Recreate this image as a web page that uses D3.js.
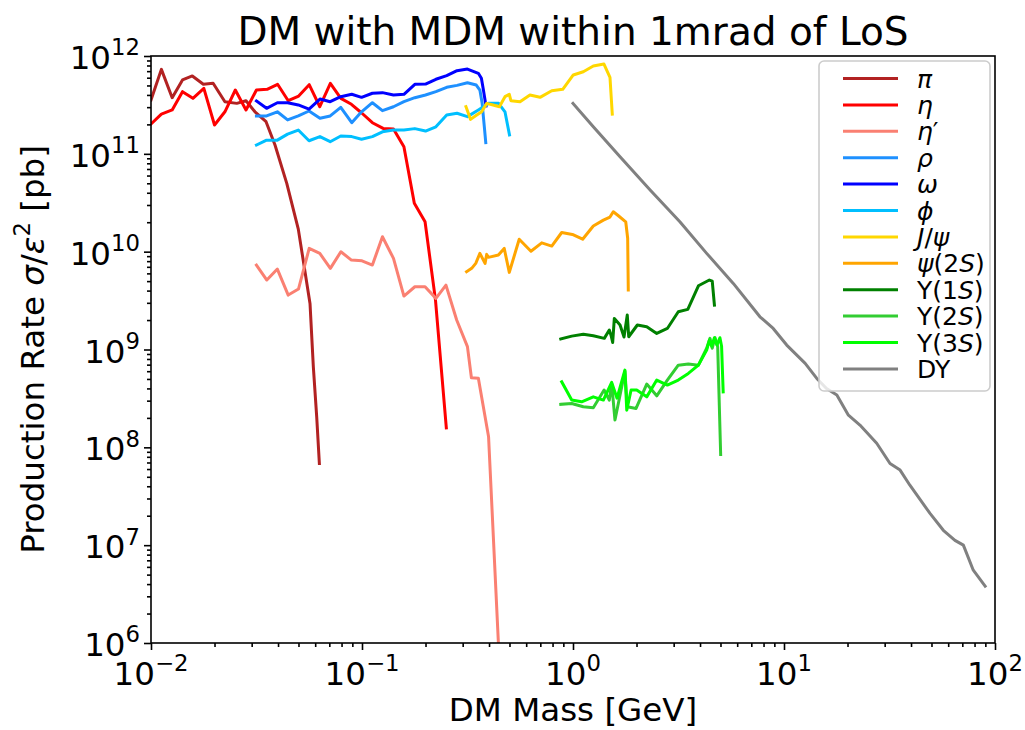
<!DOCTYPE html>
<html>
<head>
<meta charset="utf-8">
<script src="https://cdn.jsdelivr.net/npm/d3@7"></script>
<style>
  body { margin: 0; background: #fff; }
  svg { display: block; font-family: "DejaVu Sans", sans-serif; }
</style>
</head>
<body>
<div id="chart"></div>
<script>
// DM production rate per meson channel (mass in GeV, rate in pb)
const piMass = [0.01, 0.0112, 0.0126, 0.0141, 0.0157, 0.0177, 0.0197, 0.0224, 0.0255, 0.0282, 0.0311, 0.0351, 0.0387, 0.044, 0.0499, 0.0567, 0.0588, 0.061, 0.0628];
const piRate = [3.55e11, 7.3e11, 3.75e11, 5.7e11, 6.25e11, 5.14e11, 5.26e11, 3.41e11, 3.28e11, 3.49e11, 2.69e11, 2.13e11, 1.23e11, 4.99e10, 1.7e10, 2.96e9, 6.65e8, 2.05e8, 6.84e7];

const etaMass = [0.01, 0.0112, 0.0126, 0.0141, 0.0158, 0.0178, 0.02, 0.0224, 0.0251, 0.0282, 0.0316, 0.0355, 0.0398, 0.0447, 0.0501, 0.0562, 0.0631, 0.0708, 0.0794, 0.0891, 0.1, 0.112, 0.126, 0.141, 0.158, 0.177, 0.199, 0.223, 0.251];
const etaRate = [2.02e11, 2.55e11, 2.81e11, 4.32e11, 3.69e11, 4.67e11, 1.97e11, 2.69e11, 4.49e11, 2.81e11, 4.49e11, 4.57e11, 5.14e11, 3.49e11, 3.9e11, 5.09e11, 3.03e11, 5.26e11, 3.69e11, 3.21e11, 2.6e11, 2.08e11, 1.82e11, 1.79e11, 1.18e11, 3.12e10, 2.02e10, 3.2e9, 1.58e8];

const etaPrimeMass = [0.0316, 0.0354, 0.0397, 0.0447, 0.05, 0.0562, 0.0631, 0.0708, 0.0794, 0.0891, 0.1, 0.112, 0.125, 0.141, 0.158, 0.178, 0.199, 0.224, 0.25, 0.281, 0.316, 0.33, 0.356, 0.398, 0.447];
const etaPrimeRate = [7.3e9, 5.13e9, 6.64e9, 3.6e9, 4.15e9, 1.08e10, 9.6e9, 6.75e9, 9.98e9, 8.2e9, 8.07e9, 7.3e9, 1.42e10, 8.54e9, 3.52e9, 4.38e9, 4.38e9, 3.33e9, 4.55e9, 2.0e9, 1.07e9, 5.14e8, 5.07e8, 1.28e8, 6.7e5];

const rhoMass = [0.0316, 0.0353, 0.0397, 0.0444, 0.0499, 0.0561, 0.0632, 0.0707, 0.0793, 0.0894, 0.0995, 0.112, 0.125, 0.141, 0.158, 0.178, 0.2, 0.224, 0.252, 0.282, 0.316, 0.348, 0.362, 0.371, 0.38, 0.386];
const rhoRate = [2.44e11, 2.44e11, 2.69e11, 2.22e11, 2.44e11, 2.74e11, 2.31e11, 2.44e11, 2.99e11, 2.08e11, 2.69e11, 3.33e11, 2.76e11, 3.03e11, 3.41e11, 3.75e11, 3.99e11, 4.32e11, 4.79e11, 5.01e11, 5.33e11, 5.05e11, 4.49e11, 3.28e11, 1.89e11, 1.3e11];

const omegaMass = [0.0316, 0.0353, 0.0397, 0.0444, 0.0499, 0.0561, 0.0632, 0.0707, 0.0793, 0.0894, 0.0995, 0.112, 0.125, 0.141, 0.158, 0.178, 0.2, 0.224, 0.252, 0.282, 0.316, 0.356, 0.368, 0.375, 0.387];
const omegaRate = [3.47e11, 2.92e11, 3.33e11, 3.33e11, 3.16e11, 2.87e11, 3.63e11, 3.41e11, 3.84e11, 4.06e11, 3.78e11, 4.16e11, 4.22e11, 3.99e11, 4.06e11, 5.14e11, 5.17e11, 5.78e11, 6.29e11, 7.08e11, 7.36e11, 6.65e11, 5.92e11, 4.67e11, 3.08e11];

const phiMass = [0.0316, 0.0353, 0.0397, 0.0444, 0.0499, 0.0561, 0.0632, 0.0707, 0.0793, 0.0894, 0.0995, 0.112, 0.125, 0.141, 0.158, 0.178, 0.2, 0.224, 0.252, 0.282, 0.316, 0.356, 0.398, 0.444, 0.476, 0.5];
const phiRate = [1.23e11, 1.38e11, 1.38e11, 1.59e11, 1.75e11, 1.36e11, 1.5e11, 1.33e11, 1.52e11, 1.5e11, 1.41e11, 1.5e11, 1.68e11, 1.75e11, 1.75e11, 1.81e11, 1.71e11, 1.89e11, 2.49e11, 2.6e11, 2.4e11, 2.81e11, 3.28e11, 3.28e11, 2.69e11, 1.56e11];

const jpsiMass = [0.311, 0.327, 0.347, 0.369, 0.39, 0.418, 0.448, 0.476, 0.499, 0.508, 0.561, 0.625, 0.698, 0.793, 0.894, 1.003, 1.119, 1.248, 1.402, 1.497, 1.535];
const jpsiRate = [3.03e11, 2.25e11, 2.46e11, 2.69e11, 3.28e11, 3.16e11, 3.03e11, 3.84e11, 4.06e11, 3.49e11, 3.41e11, 3.99e11, 3.78e11, 4.42e11, 4.57e11, 6.4e11, 6.91e11, 7.9e11, 8.28e11, 6.06e11, 2.55e11];

const psi2sMass = [0.313, 0.331, 0.346, 0.362, 0.383, 0.39, 0.397, 0.443, 0.472, 0.499, 0.556, 0.632, 0.711, 0.793, 0.884, 0.993, 1.111, 1.248, 1.393, 1.497, 1.552, 1.641, 1.778, 1.816, 1.828];
const psi2sRate = [6.23e9, 6.75e9, 7.59e9, 9.61e9, 7.59e9, 9.38e9, 8.75e9, 9.23e9, 1.08e10, 6.14e9, 1.34e10, 1.01e10, 1.23e10, 1.14e10, 1.57e10, 1.5e10, 1.34e10, 1.83e10, 2.1e10, 2.26e10, 2.56e10, 2.33e10, 2.02e10, 1.37e10, 4.05e9];

const ups1sMass = [0.875, 0.986, 1.119, 1.248, 1.407, 1.486, 1.514, 1.542, 1.57, 1.671, 1.745, 1.808, 1.837, 2.018, 2.236, 2.494, 2.8, 3.155, 3.5, 3.93, 4.43, 4.57, 4.68];
const ups1sRate = [1.28e9, 1.37e9, 1.43e9, 1.38e9, 1.3e9, 1.58e9, 1.4e9, 1.18e9, 2.08e9, 1.78e9, 1.34e9, 2.25e9, 1.35e9, 1.78e9, 1.71e9, 1.46e9, 1.64e9, 2.43e9, 2.57e9, 4.48e9, 5.13e9, 5.0e9, 2.84e9];

const ups2sMass = [0.875, 0.986, 1.119, 1.248, 1.404, 1.486, 1.525, 1.581, 1.762, 1.808, 1.99, 2.236, 2.494, 2.8, 3.155, 3.52, 3.93, 4.3, 4.46, 4.57, 4.71, 4.85, 5.01];
const ups2sRate = [2.75e8, 2.81e8, 2.6e8, 2.54e8, 3.85e8, 3.04e8, 4.5e8, 1.9e8, 6.0e8, 2.6e8, 2.5e8, 4.43e8, 3.36e8, 4.87e8, 6.92e8, 7.1e8, 6.92e8, 1.03e9, 1.3e9, 1.03e9, 1.32e9, 1.07e9, 8.46e7];

const ups3sMass = [0.884, 0.986, 1.099, 1.248, 1.393, 1.525, 1.617, 1.762, 1.798, 1.885, 2.004, 2.236, 2.494, 2.8, 3.155, 3.52, 3.93, 4.3, 4.43, 4.54, 4.68, 4.81, 4.97, 5.06, 5.15];
const ups3sRate = [4.68e8, 3.04e8, 2.92e8, 3.28e8, 3.04e8, 4.61e8, 3.18e8, 6.15e8, 2.4e8, 3.85e8, 3.85e8, 3.28e8, 4.87e8, 4.33e8, 4.87e8, 5.7e8, 6.92e8, 9.86e8, 1.25e9, 1.08e9, 1.32e9, 1.11e9, 1.32e9, 1.08e9, 3.69e8];

const dyMass = [1.0, 1.248, 1.671, 2.32, 3.21, 4.3, 5.75, 7.69, 8.89, 10.3, 12.6, 14.3, 15.9, 17.8, 20.2, 22.9, 27.5, 31.8, 35.5, 39.5, 49.2, 56.9, 64.6, 70.8, 78.9, 89.8];
const dyRate = [3.28e11, 1.89e11, 9.34e10, 4.26e10, 2.02e10, 9.61e9, 4.74e9, 2.16e9, 1.64e9, 1.11e9, 7.21e8, 5.06e8, 4.0e8, 3.42e8, 2.13e8, 1.69e8, 1.1e8, 6.84e7, 5.85e7, 4.1e7, 2.11e7, 1.42e7, 1.12e7, 1.0e7, 5.55e6, 3.81e6];

const seriesLabels = ["π", "η", "η′", "ρ", "ω", "ϕ", "J/ψ", "ψ(2S)", "Υ(1S)", "Υ(2S)", "Υ(3S)", "DY"];
const seriesColors = ["#b22222", "#ff0000", "#fa8072", "#1e90ff", "#0000ff", "#00bfff", "#ffd700", "#ffa500", "#008000", "#32cd32", "#00ff00", "#808080"];
const seriesMass = [piMass, etaMass, etaPrimeMass, rhoMass, omegaMass, phiMass, jpsiMass, psi2sMass, ups1sMass, ups2sMass, ups3sMass, dyMass];
const seriesRate = [piRate, etaRate, etaPrimeRate, rhoRate, omegaRate, phiRate, jpsiRate, psi2sRate, ups1sRate, ups2sRate, ups3sRate, dyRate];

const xTickExp = [-2, -1, 0, 1, 2];
const yTickExp = [6, 7, 8, 9, 10, 11, 12];

const titleText = "DM with MDM within 1mrad of LoS";
const xLabelText = "DM Mass [GeV]";

// ---- layout ----
const W = 1025, H = 730;
const plot = {left: 151, right: 995, top: 56, bottom: 643};
const fs = 32.5;          // base font size
const legendFs = 25;

const svg = d3.select("#chart").append("svg")
    .attr("width", W).attr("height", H);

const x = d3.scaleLog().domain([1e-2, 1e2]).range([plot.left, plot.right]);
const y = d3.scaleLog().domain([1e6, 1e12]).range([plot.bottom, plot.top]);

svg.append("defs").append("clipPath").attr("id", "clip")
    .append("rect")
    .attr("x", plot.left).attr("y", plot.top)
    .attr("width", plot.right - plot.left).attr("height", plot.bottom - plot.top);

// minor tick positions 2..9 per decade
function minors(lo, hi) {
    const out = [];
    for (let e = lo; e < hi; e++) {
        for (let k = 2; k <= 9; k++) out.push(k * Math.pow(10, e));
    }
    return out;
}

// ---- series ----
const line = d3.line().x(d => x(d[0])).y(d => y(d[1]));
const lines = svg.append("g").attr("clip-path", "url(#clip)");
seriesLabels.forEach((lab, i) => {
    const pts = seriesMass[i].map((m, j) => [m, seriesRate[i][j]]);
    lines.append("path")
        .datum(pts)
        .attr("d", line)
        .attr("fill", "none")
        .attr("stroke", seriesColors[i])
        .attr("stroke-width", 3)
        .attr("stroke-linejoin", "round")
        .attr("stroke-linecap", "square");
});

// ---- axes ----
const xAxisMinor = d3.axisBottom(x).tickValues(minors(-2, 2)).tickSize(4).tickFormat("");
const xAxisMajor = d3.axisBottom(x).tickValues(xTickExp.map(e => Math.pow(10, e))).tickSize(7).tickFormat("");
const yAxisMinor = d3.axisLeft(y).tickValues(minors(6, 12)).tickSize(4).tickFormat("");
const yAxisMajor = d3.axisLeft(y).tickValues(yTickExp.map(e => Math.pow(10, e))).tickSize(7).tickFormat("");

[xAxisMinor, xAxisMajor].forEach(ax => {
    svg.append("g").attr("transform", "translate(0," + plot.bottom + ")").call(ax)
        .call(g => g.select(".domain").remove())
        .selectAll("line").attr("stroke", "#000").attr("stroke-width", 1.6);
});
[yAxisMinor, yAxisMajor].forEach(ax => {
    svg.append("g").attr("transform", "translate(" + plot.left + ",0)").call(ax)
        .call(g => g.select(".domain").remove())
        .selectAll("line").attr("stroke", "#000").attr("stroke-width", 1.6);
});

// frame
svg.append("rect")
    .attr("x", plot.left).attr("y", plot.top)
    .attr("width", plot.right - plot.left).attr("height", plot.bottom - plot.top)
    .attr("fill", "none").attr("stroke", "#000").attr("stroke-width", 1.6);

// tick labels as 10^n
function powLabel(sel, e) {
    sel.append("tspan").text("10");
    sel.append("tspan")
        .attr("dy", -fs * 0.42)
        .attr("font-size", fs * 0.7)
        .text(e < 0 ? "\u2212" + Math.abs(e) : String(e));
}
xTickExp.forEach(e => {
    const t = svg.append("text")
        .attr("x", x(Math.pow(10, e)))
        .attr("y", plot.bottom + 42)
        .attr("text-anchor", "middle")
        .attr("font-size", fs)
        .attr("fill", "#000");
    powLabel(t, e);
});
yTickExp.forEach(e => {
    const t = svg.append("text")
        .attr("x", plot.left - 11)
        .attr("y", y(Math.pow(10, e)) + 13)
        .attr("text-anchor", "end")
        .attr("font-size", fs)
        .attr("fill", "#000");
    powLabel(t, e);
});

// ---- titles ----
svg.append("text")
    .attr("x", (plot.left + plot.right) / 2).attr("y", 45)
    .attr("text-anchor", "middle")
    .attr("font-size", fs * 1.2)
    .text(titleText);

svg.append("text")
    .attr("x", (plot.left + plot.right) / 2).attr("y", 721)
    .attr("text-anchor", "middle")
    .attr("font-size", fs)
    .text(xLabelText);

const yl = svg.append("text")
    .attr("transform", "translate(44," + ((plot.top + plot.bottom) / 2) + ") rotate(-90)")
    .attr("text-anchor", "middle")
    .attr("font-size", fs);
yl.append("tspan").text("Production Rate ");
yl.append("tspan").attr("font-style", "italic").text("σ");
yl.append("tspan").text("/");
yl.append("tspan").attr("font-style", "italic").text("ε");
yl.append("tspan").attr("dy", -fs * 0.42).attr("font-size", fs * 0.7).text("2");
yl.append("tspan").attr("dy", fs * 0.42).text(" [pb]");

// ---- legend ----
const italicChars = "πηρωϕψJS";
const leg = svg.append("g");
leg.append("rect")
    .attr("x", 819).attr("y", 61)
    .attr("width", 171).attr("height", 330)
    .attr("rx", 5)
    .attr("fill", "#fff").attr("fill-opacity", 0.8)
    .attr("stroke", "#cccccc").attr("stroke-width", 1.6);

seriesLabels.forEach((lab, i) => {
    const cy = 78.5 + i * 26.4;
    leg.append("line")
        .attr("x1", 843).attr("x2", 898)
        .attr("y1", cy).attr("y2", cy)
        .attr("stroke", seriesColors[i]).attr("stroke-width", 3);
    const t = leg.append("text")
        .attr("x", 917).attr("y", cy + 9)
        .attr("font-size", legendFs);
    for (const ch of lab) {
        t.append("tspan")
            .attr("font-style", italicChars.includes(ch) ? "italic" : "normal")
            .text(ch);
    }
});
</script>
</body>
</html>
